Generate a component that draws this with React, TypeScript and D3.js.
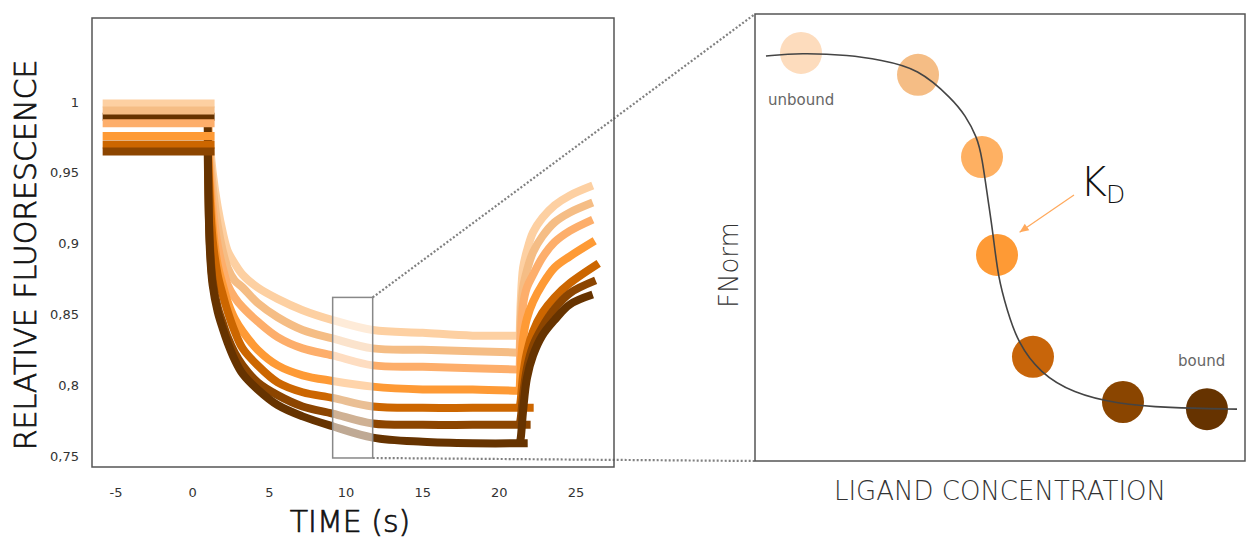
import * as d3 from "d3";

// ---- left panel: binding kinetics, one trace per ligand concentration ----
const traceColors = ["#fdd0a2", "#f5bd85", "#fdae6b", "#fe9a35", "#cc6600", "#8c4500", "#663300"];
const dotColors = ["#fddcbd", "#f5bd85", "#feb062", "#fe9a35", "#c8650a", "#8a4500", "#663300"];

const timeTicks = [-5, 0, 5, 10, 15, 20, 25];
const fluoTicks = [1, 0.95, 0.9, 0.85, 0.8, 0.75];
const fluoTickLabels = ["1", "0,95", "0,9", "0,85", "0,8", "0,75"];

// baseline before ligand injection
const plateauStart = -5.87;
const plateauEnd = 1.43;
const plateau = [0.999, 0.994, 0.985, 0.976, 0.97, 0.965, 0.9895];
const plateauOrder = [6, 0, 1, 2, 3, 4, 5];

// association phase
const decayTimes = [0.98, 1.11, 1.3, 1.63, 1.96, 2.28, 2.74, 3.26, 4.24, 5.54, 7.17, 9.13, 11.74, 15.0, 18.26];
const decayEnd = [21.26, 21.26, 21.26, 21.26, 22.24, 22.04, 21.85];
const decay = [
  [0.999, 0.973, 0.951, 0.926, 0.908, 0.895, 0.886, 0.878, 0.869, 0.861, 0.853, 0.846, 0.839, 0.837, 0.835, 0.835],
  [0.994, 0.966, 0.941, 0.913, 0.895, 0.883, 0.874, 0.869, 0.858, 0.848, 0.839, 0.833, 0.826, 0.825, 0.824, 0.823],
  [0.985, 0.955, 0.927, 0.899, 0.883, 0.871, 0.862, 0.855, 0.845, 0.834, 0.826, 0.821, 0.814, 0.813, 0.812, 0.811],
  [0.976, 0.945, 0.913, 0.885, 0.871, 0.859, 0.847, 0.838, 0.825, 0.814, 0.807, 0.803, 0.799, 0.797, 0.797, 0.796],
  [0.97, 0.934, 0.903, 0.878, 0.864, 0.852, 0.838, 0.826, 0.814, 0.802, 0.795, 0.791, 0.785, 0.784, 0.784, 0.784],
  [0.965, 0.903, 0.874, 0.855, 0.844, 0.834, 0.823, 0.814, 0.802, 0.793, 0.785, 0.78, 0.773, 0.772, 0.772, 0.772],
  [0.989, 0.899, 0.871, 0.852, 0.84, 0.83, 0.818, 0.808, 0.797, 0.786, 0.778, 0.771, 0.763, 0.76, 0.759, 0.759],
];

// dissociation phase
const recoveryTimes = [21.33, 21.4, 21.55, 21.8, 22.2, 22.8, 23.6, 24.6];
const recoveryEnd = [26.09, 26.09, 26.09, 26.22, 26.48, 26.28, 26.09];
const recovery = [
  [0.835, 0.86, 0.883, 0.895, 0.908, 0.918, 0.927, 0.934, 0.941],
  [0.824, 0.847, 0.869, 0.881, 0.894, 0.905, 0.915, 0.922, 0.929],
  [0.812, 0.835, 0.857, 0.869, 0.878, 0.89, 0.901, 0.909, 0.917],
  [0.797, 0.814, 0.833, 0.847, 0.859, 0.871, 0.883, 0.891, 0.902],
  [0.784, 0.79, 0.807, 0.823, 0.838, 0.851, 0.862, 0.872, 0.886],
  [0.772, 0.777, 0.793, 0.812, 0.828, 0.841, 0.854, 0.865, 0.874],
  [0.759, 0.763, 0.782, 0.805, 0.821, 0.835, 0.846, 0.857, 0.864],
];

// zoomed window (time / fluorescence)
const zoomWindow = { t0: 9.13, t1: 11.74, f0: 0.7486, f1: 0.862 };

// ---- right panel: titration ----
const dotConc = [9.39, 33.27, 46.33, 49.39, 56.73, 75.1, 92.24];
const dotFnorm = [0.913, 0.864, 0.68, 0.461, 0.233, 0.132, 0.116];
const fitConc = [2.24, 9.18, 19.39, 25.51, 33.27, 40.41, 42.86, 45.31, 46.33, 47.55, 48.57, 49.59, 51.43, 53.67, 58.16, 64.9, 73.88, 84.08, 98.37];
const fitFnorm = [0.906, 0.913, 0.908, 0.897, 0.879, 0.808, 0.774, 0.725, 0.68, 0.584, 0.51, 0.412, 0.338, 0.264, 0.197, 0.152, 0.128, 0.119, 0.116];
const kdArrow = { fromC: 65.1, fromF: 0.595, toC: 54.0, toF: 0.512 };

const tickFont = "'DejaVu Sans', Verdana, sans-serif";
const lightFont = "'DejaVu Sans', sans-serif";

export default function App() {
  const W = 1249;
  const H = 540;
  const left = { x0: 92, x1: 614, y0: 18, y1: 467 };
  const right = { x0: 755, x1: 1245, y0: 14, y1: 461 };

  const x = d3.scaleLinear().domain([-5, 25]).range([116, 576]);
  const y = d3.scaleLinear().domain([0.75, 1]).range([456, 102]);
  const cx = d3.scaleLinear().domain([0, 100]).range([right.x0, right.x1]);
  const cy = d3.scaleLinear().domain([0, 1]).range([right.y1, right.y0]);

  const line = d3
    .line<[number, number]>()
    .x((d) => x(d[0]))
    .y((d) => y(d[1]))
    .curve(d3.curveCatmullRom.alpha(0.5));
  const flat = d3
    .line<[number, number]>()
    .x((d) => x(d[0]))
    .y((d) => y(d[1]));
  const fitLine = d3
    .line<[number, number]>()
    .x((d) => cx(d[0]))
    .y((d) => cy(d[1]))
    .curve(d3.curveBasis);

  const kinetics = traceColors.map((color, i) => {
    const dc: [number, number][] = decayTimes.map((t, j) => [t, decay[i][j]] as [number, number]);
    dc.push([decayEnd[i], decay[i][decayTimes.length]]);
    const rc: [number, number][] = recoveryTimes.map((t, j) => [t, recovery[i][j]] as [number, number]);
    rc.push([recoveryEnd[i], recovery[i][recoveryTimes.length]]);
    return (
      <g key={i} fill="none" stroke={color} strokeWidth={8} strokeLinejoin="round">
        <path d={line(dc) ?? ""} />
        <path d={line(rc) ?? ""} />
      </g>
    );
  });

  const plateaus = plateauOrder.map((i) => (
    <path
      key={i}
      d={
        flat([
          [plateauStart, plateau[i]],
          [plateauEnd, plateau[i]],
        ]) ?? ""
      }
      fill="none"
      stroke={traceColors[i]}
      strokeWidth={8}
    />
  ));

  const zx0 = x(zoomWindow.t0);
  const zx1 = x(zoomWindow.t1);
  const zyTop = y(zoomWindow.f1);
  const zyBot = y(zoomWindow.f0);

  const fit = fitConc.map((c, i) => [c, fitFnorm[i]] as [number, number]);

  const ax1 = cx(kdArrow.fromC);
  const ay1 = cy(kdArrow.fromF);
  const ax2 = cx(kdArrow.toC);
  const ay2 = cy(kdArrow.toF);
  const ang = Math.atan2(ay2 - ay1, ax2 - ax1);
  const head = 9;
  const hw = 4;
  const arrowHead = [
    [ax2, ay2],
    [ax2 - head * Math.cos(ang) + hw * Math.sin(ang), ay2 - head * Math.sin(ang) - hw * Math.cos(ang)],
    [ax2 - head * Math.cos(ang) - hw * Math.sin(ang), ay2 - head * Math.sin(ang) + hw * Math.cos(ang)],
  ]
    .map((p) => p.join(","))
    .join(" ");

  return (
    <svg
      width={W}
      height={H}
      viewBox={`0 0 ${W} ${H}`}
      style={{ position: "absolute", left: 0, top: 0, background: "#fff" }}
    >
      {/* dotted connectors */}
      <g stroke="#808080" strokeWidth={2.2} strokeDasharray="2,2" fill="none">
        <line x1={zx1} y1={zyTop} x2={right.x0} y2={right.y0} />
        <line x1={zx1} y1={zyBot} x2={right.x0} y2={right.y1} />
      </g>

      {/* left panel */}
      {kinetics}
      {plateaus}
      <rect x={zx0} y={zyTop} width={zx1 - zx0} height={zyBot - zyTop} fill="#fff" fillOpacity={0.58} stroke="#888" strokeWidth={1.5} />
      <rect x={left.x0} y={left.y0} width={left.x1 - left.x0} height={left.y1 - left.y0} fill="none" stroke="#555" strokeWidth={1.5} />

      {fluoTicks.map((v, i) => (
        <text key={v} x={79} y={y(v)} textAnchor="end" dominantBaseline="central" fontFamily={tickFont} fontSize={13} fill="#333">
          {fluoTickLabels[i]}
        </text>
      ))}
      {timeTicks.map((t) => (
        <text key={t} x={x(t)} y={492} textAnchor="middle" dominantBaseline="central" fontFamily={tickFont} fontSize={13} fill="#333">
          {t}
        </text>
      ))}
      <text x={350} y={532} textAnchor="middle" fontFamily={lightFont} fontWeight={300} fontSize={30} fill="#111" stroke="#111" strokeWidth={0.7}>
        TIME (s)
      </text>
      <text transform="translate(36,255) rotate(-90)" textAnchor="middle" fontFamily={lightFont} fontWeight={300} fontSize={30} fill="#111" stroke="#111" strokeWidth={0.7}>
        RELATIVE FLUORESCENCE
      </text>

      {/* right panel */}
      <rect x={right.x0} y={right.y0} width={right.x1 - right.x0} height={right.y1 - right.y0} fill="#fff" stroke="#555" strokeWidth={1.5} />
      {dotConc.map((c, i) => (
        <circle key={i} cx={cx(c)} cy={cy(dotFnorm[i])} r={21} fill={dotColors[i]} />
      ))}
      <path d={fitLine(fit) ?? ""} fill="none" stroke="#444" strokeWidth={1.6} />
      <line x1={ax1} y1={ay1} x2={ax2} y2={ay2} stroke="#ffa95c" strokeWidth={1.2} />
      <polygon points={arrowHead} fill="#ffa95c" />
      <text x={1080} y={196} fontFamily={lightFont} fontWeight={300} fontSize={41} fill="#111">
        K
      </text>
      <text x={1106} y={203} fontFamily={lightFont} fontWeight={300} fontSize={25} fill="#111">
        D
      </text>
      <text x={768} y={105} fontFamily={lightFont} fontSize={15} fill="#666">
        unbound
      </text>
      <text x={1178} y={366} fontFamily={lightFont} fontSize={15} fill="#666">
        bound
      </text>
      <text transform="translate(738,265) rotate(-90)" textAnchor="middle" fontFamily={lightFont} fontWeight={300} fontSize={26} fill="#333">
        FNorm
      </text>
      <text x={1000} y={500} textAnchor="middle" fontFamily={lightFont} fontWeight={300} fontSize={26} fill="#333">
        LIGAND CONCENTRATION
      </text>
    </svg>
  );
}
